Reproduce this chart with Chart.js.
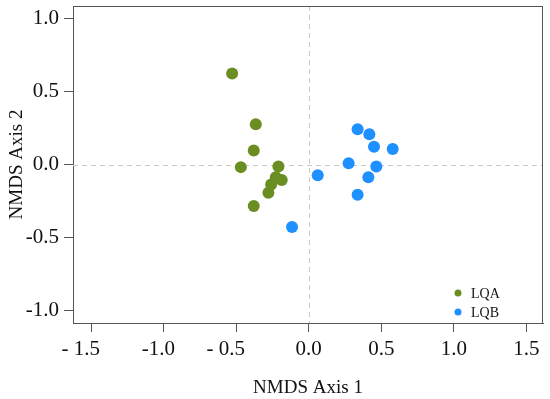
<!DOCTYPE html>
<html>
<head>
<meta charset="utf-8">
<script src="https://cdn.jsdelivr.net/npm/chart.js@4"></script>
<style>
html,body{margin:0;padding:0;background:#fff;}
#wrap{width:550px;height:399px;}
</style>
</head>
<body>
<div id="wrap"><canvas id="c" width="550" height="399"></canvas></div>
<script>
const seriesNames = ["LQA", "LQB"];
const lqaX = [-0.528, -0.365, -0.379, -0.468, -0.209, -0.227, -0.186, -0.259, -0.278, -0.379];
const lqaY = [0.624, 0.275, 0.096, -0.018, -0.014, -0.087, -0.107, -0.137, -0.193, -0.285];
const lqbX = [0.337, 0.418, 0.450, 0.579, 0.275, 0.466, 0.062, 0.411, 0.337, -0.115];
const lqbY = [0.241, 0.207, 0.121, 0.107, 0.009, -0.014, -0.073, -0.087, -0.207, -0.428];
const xTickValues = [-1.5, -1.0, -0.5, 0.0, 0.5, 1.0, 1.5];
const xTickLabels = ["- 1.5", "-1.0", "- 0.5", "0.0", "0.5", "1.0", "1.5"];
const yTickValues = [-1.0, -0.5, 0.0, 0.5, 1.0];
const yTickLabels = ["-1.0", "-0.5", "0.0", "0.5", "1.0"];
const colors = ["#6b8e23", "#1e90ff"];

const FONT = '"Liberation Serif", "Times New Roman", serif';
const toPts = (xs, ys) => xs.map((x, i) => ({x: x, y: ys[i]}));

const frameAndZero = {
  id: 'frameAndZero',
  beforeDatasetsDraw(chart) {
    const {ctx, chartArea: a, scales} = chart;
    ctx.save();
    ctx.strokeStyle = '#c8c8c8';
    ctx.lineWidth = 1;
    ctx.setLineDash([5, 4]);
    const x0 = Math.round(scales.x.getPixelForValue(0)) + 0.5;
    const y0 = Math.round(scales.y.getPixelForValue(0)) + 0.5;
    ctx.beginPath();
    ctx.moveTo(x0, a.top); ctx.lineTo(x0, a.bottom);
    ctx.moveTo(a.left, y0); ctx.lineTo(a.right, y0);
    ctx.stroke();
    ctx.setLineDash([]);
    ctx.strokeStyle = '#555555';
    ctx.beginPath();
    ctx.moveTo(a.left, a.top + 0.5); ctx.lineTo(a.right, a.top + 0.5);
    ctx.moveTo(a.right - 0.5, a.top); ctx.lineTo(a.right - 0.5, a.bottom);
    ctx.stroke();
    ctx.restore();
  },
  afterDatasetsDraw(chart) {
    const {ctx} = chart;
    ctx.save();
    ctx.font = '14px ' + FONT;
    ctx.textBaseline = 'middle';
    ctx.textAlign = 'left';
    const lx = 458, ly = [293, 312];
    chart.data.datasets.forEach((ds, i) => {
      ctx.fillStyle = ds.backgroundColor;
      ctx.beginPath();
      ctx.arc(lx, ly[i], 3.5, 0, Math.PI * 2);
      ctx.fill();
      ctx.fillStyle = '#111';
      ctx.fillText(ds.label, lx + 13, ly[i] + 1);
    });
    ctx.restore();
  }
};

// trailing spaces keep the numeric part of negative labels near the tick, as in the original
const xLabelPad = (lbl) => lbl.startsWith('- ') ? lbl + '    ' : (lbl.startsWith('-') ? lbl + '  ' : lbl);

new Chart(document.getElementById('c'), {
  type: 'scatter',
  data: {
    datasets: [
      {label: seriesNames[0], data: toPts(lqaX, lqaY), backgroundColor: colors[0], borderColor: colors[0], pointRadius: 6, pointHoverRadius: 6, borderWidth: 0},
      {label: seriesNames[1], data: toPts(lqbX, lqbY), backgroundColor: colors[1], borderColor: colors[1], pointRadius: 6, pointHoverRadius: 6, borderWidth: 0}
    ]
  },
  options: {
    responsive: false,
    animation: false,
    devicePixelRatio: 1,
    layout: {padding: {top: 5, right: 7, left: 0, bottom: 0}},
    plugins: {legend: {display: false}, tooltip: {enabled: false}},
    scales: {
      x: {
        type: 'linear', min: -1.625, max: 1.615,
        afterBuildTicks: s => { s.ticks = xTickValues.map(v => ({value: v})); },
        afterFit: s => { s.height = 76; s.paddingLeft = 0; s.paddingRight = 0; },
        ticks: {
          color: '#111', padding: 5,
          font: {family: FONT, size: 21},
          callback: (v) => { const i = xTickValues.indexOf(v); return i >= 0 ? xLabelPad(xTickLabels[i]) : ''; }
        },
        grid: {display: true, drawOnChartArea: false, drawTicks: true, tickLength: 9, color: '#555555'},
        border: {display: true, color: '#555555', width: 1},
        title: {display: true, text: 'NMDS Axis 1', color: '#111', font: {family: FONT, size: 19}, padding: {top: 4, bottom: 0}}
      },
      y: {
        type: 'linear', min: -1.086, max: 1.086,
        afterBuildTicks: s => { s.ticks = yTickValues.map(v => ({value: v})); },
        afterFit: s => { s.width = 73; s.paddingTop = 0; s.paddingBottom = 0; },
        ticks: {
          color: '#111', padding: 5,
          font: {family: FONT, size: 21},
          callback: (v) => { const i = yTickValues.indexOf(v); return i >= 0 ? yTickLabels[i] : ''; }
        },
        grid: {display: true, drawOnChartArea: false, drawTicks: true, tickLength: 9, color: '#555555'},
        border: {display: true, color: '#555555', width: 1},
        title: {display: true, text: 'NMDS Axis 2', color: '#111', font: {family: FONT, size: 19}, padding: {top: 6, bottom: 2}}
      }
    }
  },
  plugins: [frameAndZero]
});
</script>
</body>
</html>
